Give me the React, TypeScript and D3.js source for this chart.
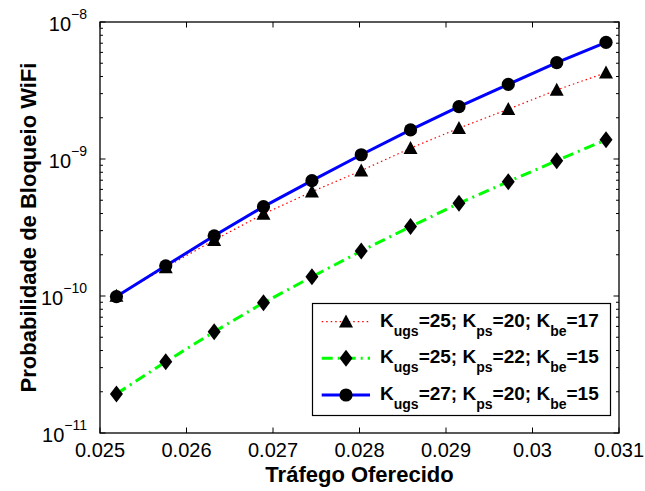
import React from "react";
import * as d3 from "d3";

const trafego = [0.02519, 0.02576, 0.02632, 0.02689, 0.02745, 0.02802, 0.02859, 0.02915, 0.02972, 0.03028, 0.03085];
const serieA = [1.0e-10, 1.62e-10, 2.56e-10, 3.97e-10, 5.77e-10, 8.22e-10, 1.2e-9, 1.68e-9, 2.31e-9, 3.19e-9, 4.27e-9];
const serieB = [1.93e-11, 3.31e-11, 5.48e-11, 8.93e-11, 1.38e-10, 2.13e-10, 3.21e-10, 4.75e-10, 6.83e-10, 9.73e-10, 1.38e-9];
const serieC = [0.99e-10, 1.66e-10, 2.75e-10, 4.49e-10, 6.95e-10, 1.074e-9, 1.63e-9, 2.41e-9, 3.51e-9, 5.05e-9, 7.11e-9];
const xTicks = [0.025, 0.026, 0.027, 0.028, 0.029, 0.03, 0.031];
const yExponents = [-8, -9, -10, -11];
const legendLabels = [
  [["K", "ugs", "=25; "], ["K", "ps", "=20; "], ["K", "be", "=17"]],
  [["K", "ugs", "=25; "], ["K", "ps", "=22; "], ["K", "be", "=15"]],
  [["K", "ugs", "=27; "], ["K", "ps", "=20; "], ["K", "be", "=15"]],
];

const FONT = "'Liberation Sans', Arial, Helvetica, sans-serif";
const L = 100, R = 619, T = 22, B = 433;

function Marker({ kind, x, y }: { kind: string; x: number; y: number }) {
  if (kind === "tri") {
    const h = 13, w = 14;
    return <path d={`M${x},${y - h * 0.55} L${x + w / 2},${y + h * 0.45} L${x - w / 2},${y + h * 0.45} Z`} fill="#000" />;
  }
  if (kind === "dia") {
    return <path d={`M${x},${y - 8.5} L${x + 6.5},${y} L${x},${y + 8.5} L${x - 6.5},${y} Z`} fill="#000" />;
  }
  return <circle cx={x} cy={y} r={6.6} fill="#000" />;
}

export default function App() {
  const x = d3.scaleLinear().domain([0.025, 0.031]).range([L, R]);
  const y = d3.scaleLog().domain([1e-11, 1e-8]).range([B, T]);
  const series = [
    { data: serieA, color: "#ff0000", width: 1.2, dash: "1.5,3", kind: "tri" },
    { data: serieB, color: "#00ff00", width: 3, dash: "11,5,2,5", kind: "dia" },
    { data: serieC, color: "#0000ff", width: 3, dash: "", kind: "circ" },
  ];
  const line = d3.line<number>().x((_, i) => x(trafego[i])).y((d) => y(d));
  const minor: number[] = [];
  for (const e of [-11, -10, -9]) for (let k = 2; k <= 9; k++) minor.push(k * Math.pow(10, e));

  const legX = 312.5, legY = 303.5, legW = 298, legH = 112;
  const rowY = [321.7, 358.3, 395];

  return (
    <svg width={645} height={491} style={{ position: "absolute", left: 0, top: 0, background: "#fff" }} fontFamily={FONT}>
      <rect x={0} y={0} width={645} height={491} fill="#fff" />
      {/* ticks */}
      {xTicks.map((t) => (
        <g key={"xt" + t}>
          <line x1={x(t)} x2={x(t)} y1={B} y2={B - 5.5} stroke="#000" strokeWidth={1} />
          <line x1={x(t)} x2={x(t)} y1={T} y2={T + 5.5} stroke="#000" strokeWidth={1} />
          <text x={x(t)} y={457} textAnchor="middle" fontSize={20} fill="#000">{String(+t.toFixed(3))}</text>
        </g>
      ))}
      {yExponents.map((e) => {
        const yy = y(Math.pow(10, e));
        return (
          <g key={"yt" + e}>
            <line x1={L} x2={L + 5.5} y1={yy} y2={yy} stroke="#000" strokeWidth={1} />
            <line x1={R} x2={R - 5.5} y1={yy} y2={yy} stroke="#000" strokeWidth={1} />
            <text x={87} y={yy + 8.5} textAnchor="end" fontSize={20} fill="#000">
              <tspan>10</tspan>
              <tspan fontSize={14} dy={-12}>{"\u2212" + Math.abs(e)}</tspan>
            </text>
          </g>
        );
      })}
      {minor.map((m, i) => (
        <g key={"mn" + i}>
          <line x1={L} x2={L + 3} y1={y(m)} y2={y(m)} stroke="#000" strokeWidth={1} />
          <line x1={R} x2={R - 3} y1={y(m)} y2={y(m)} stroke="#000" strokeWidth={1} />
        </g>
      ))}
      {/* series */}
      {series.map((s, si) => (
        <g key={"s" + si}>
          <path d={line(s.data) || ""} fill="none" stroke={s.color} strokeWidth={s.width} strokeDasharray={s.dash || undefined} />
          {s.data.map((v, i) => (
            <Marker key={i} kind={s.kind} x={x(trafego[i])} y={y(v)} />
          ))}
        </g>
      ))}
      {/* frame */}
      <rect x={L} y={T} width={R - L} height={B - T} fill="none" stroke="#000" strokeWidth={1.3} />
      {/* legend */}
      <rect x={legX} y={legY} width={legW} height={legH} fill="#fff" stroke="#000" strokeWidth={1.2} />
      {series.map((s, si) => (
        <g key={"lg" + si}>
          <line x1={321.7} x2={370} y1={rowY[si]} y2={rowY[si]} stroke={s.color} strokeWidth={s.width} strokeDasharray={s.dash || undefined} />
          <Marker kind={s.kind} x={346} y={rowY[si]} />
          <text x={380} y={rowY[si] + 5} fontSize={19} fontWeight="bold" fill="#000">
            {legendLabels[si].map((p, pi) => (
              <React.Fragment key={pi}>
                <tspan>{p[0]}</tspan>
                <tspan fontSize={14} dy={9}>{p[1]}</tspan>
                <tspan dy={-9}>{p[2]}</tspan>
              </React.Fragment>
            ))}
          </text>
        </g>
      ))}
      {/* axis titles */}
      <text x={(L + R) / 2} y={482} textAnchor="middle" fontSize={22} fontWeight="bold" fill="#000">Tráfego Oferecido</text>
      <text transform={`translate(36,${(T + B) / 2}) rotate(-90)`} textAnchor="middle" fontSize={22} fontWeight="bold" fill="#000">Probabilidade de Bloqueio WiFi</text>
    </svg>
  );
}
